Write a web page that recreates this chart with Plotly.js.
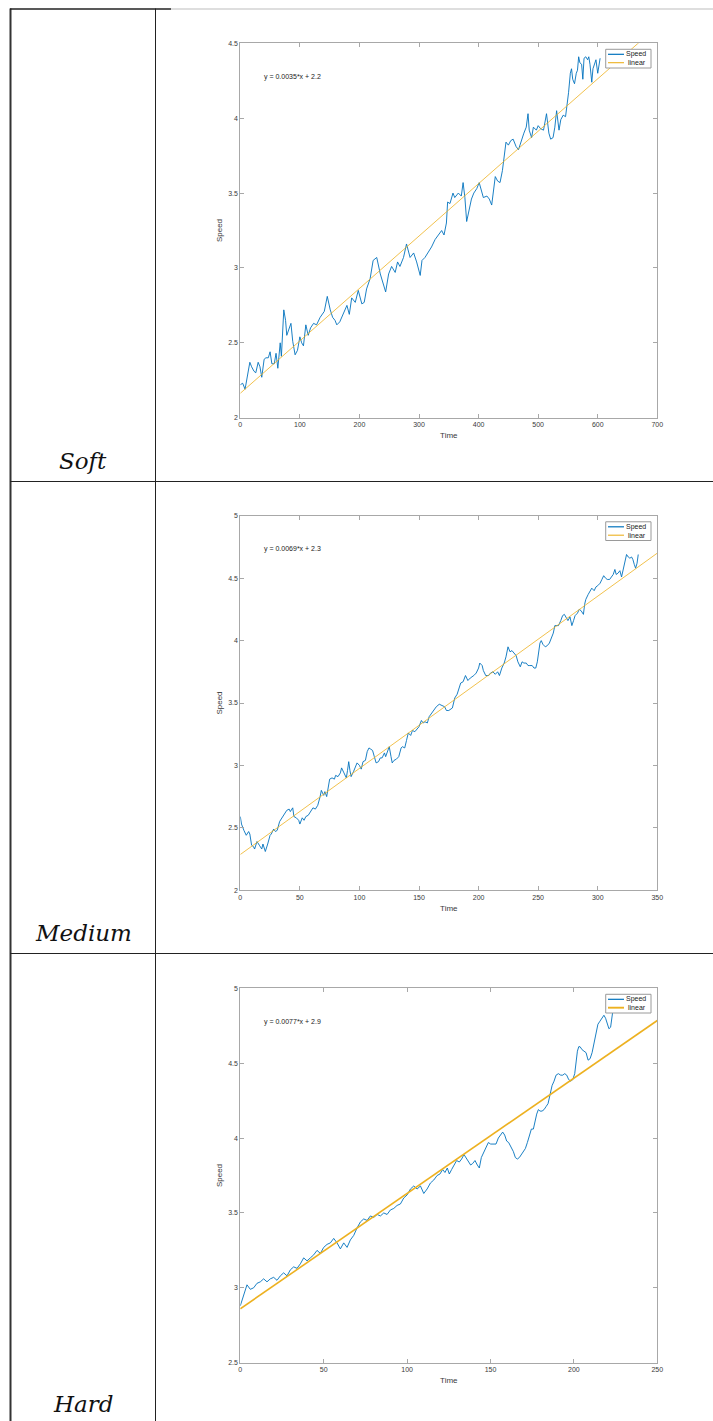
<!DOCTYPE html>
<html>
<head>
<meta charset="utf-8">
<script src="https://cdn.plot.ly/plotly-3.0.1.min.js"></script>
<style>
  html, body { margin: 0; padding: 0; background: #fff; }
  #chart { width: 713px; height: 1421px; }
</style>
</head>
<body>
<div id="chart"></div>
<script>
// ---------------- DATA ----------------
const rowLabels = ['Soft', 'Medium', 'Hard'];
const seriesNames = ['Speed', 'linear'];
const fitLabels = ['y = 0.0035*x + 2.2', 'y = 0.0069*x + 2.3', 'y = 0.0077*x + 2.9'];
const fitSlopes = [0.0035, 0.0069, 0.0077];
const fitIntercepts = [2.163, 2.286, 2.86];
const xRanges = [[0, 700], [0, 350], [0, 250]];
const yRanges = [[2, 4.5], [2, 5], [2.5, 5]];
const xTickSteps = [100, 50, 50];
const yTickSteps = [0.5, 0.5, 0.5];
const xTitle = 'Time';
const yTitle = 'Speed';

const softTime = [0,4,8,12,16,19,23,26,30,33,36,40,43,47,50,53,57,60,63,67,69,73,76,78,81,85,88,92,96,100,103,106,110,114,118,123,128,134,141,146,151,155,159,162,167,173,179,183,187,193,198,204,208,212,218,223,229,235,239,244,249,254,260,264,268,274,279,285,291,296,302,305,310,316,321,327,333,338,342,346,348,352,357,360,366,371,374,377,380,385,388,392,397,401,404,408,414,418,422,425,428,432,436,440,443,446,450,454,458,463,467,472,476,480,483,485,489,492,497,500,504,509,512,514,518,521,525,528,531,535,538,542,546,548,551,554,556,558,561,564,566,568,570,573,575,577,580,583,585,587,590,592,595,597,600,602,604];
const softSpeed = [2.22,2.23,2.19,2.27,2.37,2.34,2.31,2.30,2.37,2.34,2.27,2.39,2.40,2.40,2.44,2.36,2.36,2.43,2.33,2.50,2.41,2.72,2.65,2.55,2.59,2.63,2.51,2.42,2.45,2.54,2.50,2.48,2.62,2.55,2.60,2.63,2.62,2.67,2.71,2.81,2.72,2.67,2.65,2.62,2.64,2.70,2.75,2.69,2.80,2.77,2.85,2.76,2.77,2.86,2.93,3.05,3.07,2.96,2.90,2.84,2.96,3.01,2.97,3.04,3.01,3.07,3.16,3.07,3.10,3.04,2.95,3.05,3.07,3.11,3.14,3.19,3.22,3.25,3.22,3.30,3.44,3.43,3.50,3.47,3.50,3.48,3.57,3.47,3.31,3.41,3.46,3.50,3.53,3.57,3.52,3.47,3.48,3.46,3.42,3.52,3.61,3.58,3.57,3.65,3.77,3.84,3.82,3.85,3.86,3.81,3.79,3.86,3.90,3.94,4.03,3.92,3.87,3.94,3.92,3.95,3.93,3.92,3.99,4.03,3.90,3.86,3.87,3.94,4.05,3.92,3.99,4.02,4.01,4.07,4.17,4.30,4.33,4.26,4.23,4.30,4.32,4.41,4.37,4.36,4.26,4.40,4.41,4.39,4.41,4.36,4.24,4.33,4.37,4.39,4.30,4.37,4.40];

const mediumTime = [0,1,3,5,7,8,9.5,11,12,14,16,18,19,21,23,25,26,28,29.5,31,33,35,37,39,41,42,44,45,47,49,50,52,53.5,55,57,59,61,63,65,67,68,70,71,72.5,74,75,77,79,80,82,84,85,87,89,90,91,92,93,95,96.5,98,100,101.5,103,105,106.5,108,109.5,111,112.5,114,116,117.5,119,121,122,124,125,126.5,127.5,129,131,133,135,136,138,139.5,141,143,144.5,146.5,148.5,150,152,153.5,155,157,158.5,160.5,162.5,164.5,167,169,171.5,173,175,178,180,182,183,185,187,189,191,193,196,198,200,201,203,204,206,208.5,210,212,214,216,217.5,219.5,221.5,223,224.7,226.4,228,230,231.5,233,235,236.5,238,240,241.5,243,245,246.5,248,249.3,250.4,251.5,252.6,254,256,257.7,259.4,261.3,262.7,264,265.5,267,269,270.5,272,273.3,275,276.7,278.3,279.7,281,283,284.5,286,288,289,290,292,293.5,295,297,298.5,300,302,303.5,305,306.6,308,310,311.6,313,314.4,315.5,317,318.6,320,321.4,322.8,324.2,325.6,327,328.4,329.5,330.7,331.8,333,334];
const mediumSpeed = [2.59,2.53,2.48,2.44,2.47,2.45,2.36,2.35,2.33,2.39,2.36,2.33,2.37,2.31,2.37,2.44,2.45,2.49,2.47,2.48,2.55,2.58,2.61,2.64,2.65,2.63,2.66,2.59,2.58,2.56,2.53,2.58,2.56,2.59,2.60,2.63,2.66,2.65,2.68,2.75,2.80,2.76,2.79,2.75,2.83,2.89,2.90,2.89,2.92,2.91,2.94,2.98,2.94,2.90,2.96,3.03,2.96,2.91,2.95,2.99,3.02,3.00,2.97,3.03,3.04,3.11,3.14,3.13,3.12,3.07,3.02,3.03,3.06,3.06,3.10,3.07,3.13,3.15,3.07,3.02,3.04,3.05,3.07,3.14,3.15,3.14,3.20,3.26,3.24,3.28,3.27,3.29,3.31,3.36,3.34,3.35,3.34,3.39,3.42,3.44,3.47,3.49,3.48,3.47,3.44,3.44,3.46,3.54,3.57,3.60,3.66,3.67,3.72,3.68,3.70,3.72,3.74,3.78,3.82,3.80,3.76,3.72,3.72,3.74,3.75,3.73,3.75,3.72,3.78,3.82,3.87,3.95,3.91,3.92,3.90,3.88,3.83,3.79,3.83,3.82,3.82,3.80,3.80,3.80,3.78,3.78,3.83,3.92,3.98,4.00,3.97,3.95,3.96,3.98,4.03,4.06,4.12,4.12,4.12,4.16,4.20,4.21,4.19,4.16,4.19,4.12,4.16,4.20,4.22,4.25,4.24,4.21,4.29,4.33,4.37,4.40,4.42,4.40,4.43,4.44,4.46,4.49,4.52,4.50,4.49,4.49,4.51,4.53,4.57,4.53,4.54,4.56,4.51,4.58,4.63,4.69,4.67,4.66,4.67,4.65,4.61,4.58,4.62,4.69];

const hardTime = [0,2,4,6,8,10,12,14,16,18,20,22,24,26,28,30,32,34,36,38,40,42,44,46,48,50,52,54,56,58,60,62,64,66,68,70,72,74,76,78,80,82,84,86,88,90,92,94,96,98,100,102,104,106,108,110,112,114,116,118,119.7,121.3,122.7,124.1,125.3,126.7,128.1,129.7,131.3,132.7,134.1,135.3,136.7,138.1,139.3,140.7,142.1,143.3,144.5,145.7,147.3,148.7,150.1,151.7,153.3,154.7,156.1,157.3,158.5,159.7,160.9,162.3,163.7,164.9,166.1,167.3,168.5,169.7,170.9,172.1,173.3,174.5,175.7,176.7,177.7,178.7,179.7,180.9,182.1,183.3,184.5,185.7,186.9,188.1,189.3,190.7,192.1,193.3,194.5,195.7,196.9,198.1,199.3,200.5,201.3,202.1,202.9,203.7,204.9,206.1,207.3,208.5,209.7,210.9,212.1,213.3,214.4,215.6,216.8,218,219,220,221,222,222.8,223.6];
const hardSpeed = [2.88,2.95,3.02,2.99,3.00,3.03,3.04,3.06,3.04,3.06,3.07,3.05,3.08,3.10,3.08,3.12,3.14,3.13,3.16,3.20,3.18,3.20,3.22,3.25,3.23,3.27,3.29,3.30,3.33,3.30,3.26,3.30,3.27,3.32,3.35,3.40,3.44,3.46,3.45,3.48,3.47,3.49,3.48,3.50,3.49,3.52,3.53,3.55,3.56,3.60,3.62,3.66,3.68,3.66,3.68,3.63,3.66,3.70,3.72,3.75,3.76,3.79,3.77,3.80,3.76,3.79,3.82,3.85,3.84,3.86,3.89,3.87,3.84,3.82,3.83,3.85,3.82,3.80,3.87,3.90,3.93,3.97,3.96,3.96,3.96,4.00,4.02,4.04,4.02,3.98,3.97,3.94,3.91,3.87,3.86,3.87,3.89,3.91,3.93,3.97,4.02,4.06,4.06,4.12,4.16,4.19,4.18,4.18,4.19,4.21,4.23,4.29,4.35,4.38,4.42,4.43,4.42,4.42,4.43,4.42,4.39,4.38,4.39,4.43,4.50,4.58,4.61,4.61,4.59,4.58,4.57,4.52,4.53,4.57,4.63,4.69,4.76,4.78,4.80,4.82,4.80,4.76,4.73,4.74,4.80,4.87];

// ---------------- LAYOUT HELPERS ----------------
const W = 713, H = 1421;
const FONT = 'Liberation Sans, Arial, Helvetica, sans-serif';
const AXIS_COLOR = '#a8a8a8';
const TEXT_COLOR = '#3a3a3a';
const BLUE = '#0072BD';
const ORANGE = '#EDB120';
const px = v => v / W;
const py = v => 1 - v / H;

const xDomain = [px(240.3), px(657.3)];
const plotTops = [43.3, 515.8, 988.3];
const plotHeight = 374.4;
const fitWidths = [0.8, 0.8, 1.6];
const rowSeparators = [481.5, 953.5];
const labelCentersY = [461, 933, 1404];
// legend box, in fractions of each plot area (x from left, y from bottom)
const legendBox = {x0: 0.8763, x1: 0.9849, y0: 0.934, y1: 0.984};
const legendRows = [0.9706, 0.9482];
const legendSwatch = [0.8818, 0.9201];
const legendTextRight = 0.9765;

const timeData = [softTime, mediumTime, hardTime];
const speedData = [softSpeed, mediumSpeed, hardSpeed];

const traces = [];
const layout = {
  width: W, height: H,
  margin: {l: 0, r: 0, t: 0, b: 0, pad: 0},
  paper_bgcolor: '#ffffff',
  plot_bgcolor: '#ffffff',
  showlegend: false,
  font: {family: FONT, size: 7, color: TEXT_COLOR},
  shapes: [],
  annotations: []
};

for (let i = 0; i < 3; i++) {
  const s = i === 0 ? '' : String(i + 1);
  const xa = 'x' + s, ya = 'y' + s;
  const seriesColors = [BLUE, ORANGE];
  const seriesWidths = [0.9, fitWidths[i]];
  traces.push({
    type: 'scatter', mode: 'lines',
    x: timeData[i], y: speedData[i],
    name: seriesNames[0],
    line: {color: BLUE, width: 0.9},
    xaxis: xa, yaxis: ya, showlegend: false
  });
  const fx = xRanges[i];
  traces.push({
    type: 'scatter', mode: 'lines',
    x: fx, y: fx.map(v => fitIntercepts[i] + fitSlopes[i] * v),
    name: seriesNames[1],
    line: {color: ORANGE, width: fitWidths[i]},
    xaxis: xa, yaxis: ya, showlegend: false
  });
  const common = {
    showline: true, linecolor: AXIS_COLOR, linewidth: 1, mirror: 'ticks',
    ticks: 'inside', ticklen: 4, tickwidth: 1, tickcolor: AXIS_COLOR,
    showgrid: false, zeroline: false, fixedrange: true,
    tickfont: {family: FONT, size: 7, color: TEXT_COLOR}
  };
  const top = plotTops[i], bottom = top + plotHeight;
  layout['xaxis' + s] = Object.assign({}, common, {
    domain: xDomain, anchor: ya, range: xRanges[i],
    tickmode: 'linear', tick0: 0, dtick: xTickSteps[i],
    title: {text: xTitle, font: {family: FONT, size: 8, color: TEXT_COLOR}, standoff: 5}
  });
  layout['yaxis' + s] = Object.assign({}, common, {
    domain: [py(bottom), py(top)], anchor: xa, range: yRanges[i],
    tickmode: 'linear', tick0: yRanges[i][0], dtick: yTickSteps[i],
    title: {text: yTitle, font: {family: FONT, size: 8, color: TEXT_COLOR}, standoff: 4}
  });

  // legend (MATLAB style box, top-right inside the axes)
  const xd = xa + ' domain', yd = ya + ' domain';
  layout.shapes.push({
    type: 'rect', xref: xd, yref: yd,
    x0: legendBox.x0, x1: legendBox.x1, y0: legendBox.y0, y1: legendBox.y1,
    line: {color: '#9a9a9a', width: 1}, fillcolor: '#ffffff', layer: 'above'
  });
  for (let k = 0; k < 2; k++) {
    layout.shapes.push({
      type: 'line', xref: xd, yref: yd,
      x0: legendSwatch[0], x1: legendSwatch[1], y0: legendRows[k], y1: legendRows[k],
      line: {color: seriesColors[k], width: seriesWidths[k] + 0.3}, layer: 'above'
    });
    layout.annotations.push({
      xref: xd, yref: yd, x: legendTextRight, y: legendRows[k],
      xanchor: 'right', yanchor: 'middle', showarrow: false,
      text: seriesNames[k], font: {family: FONT, size: 7, color: '#222'}
    });
  }

  layout.annotations.push({
    xref: xd, yref: yd, x: 0.051, y: 0.91,
    xanchor: 'left', yanchor: 'middle', showarrow: false,
    text: fitLabels[i], font: {family: FONT, size: 7, color: '#222'}
  });
  layout.annotations.push({
    xref: 'paper', yref: 'paper', x: px(83), y: py(labelCentersY[i]),
    xanchor: 'center', yanchor: 'middle', showarrow: false,
    text: rowLabels[i],
    font: {family: 'DejaVu Serif, Liberation Serif, serif', size: 23, color: '#111', style: 'italic'}
  });
}

// table rules
const dark = {color: '#222', width: 1};
layout.shapes.push({type: 'line', xref: 'paper', yref: 'paper', x0: px(10.5), x1: px(10.5), y0: py(8.5), y1: 0, line: {color: '#333', width: 2}});
layout.shapes.push({type: 'line', xref: 'paper', yref: 'paper', x0: px(155.5), x1: px(155.5), y0: py(8.5), y1: 0, line: dark});
layout.shapes.push({type: 'line', xref: 'paper', yref: 'paper', x0: px(10), x1: px(171), y0: py(9), y1: py(9), line: {color: '#222', width: 1.3}});
layout.shapes.push({type: 'line', xref: 'paper', yref: 'paper', x0: px(171), x1: 1, y0: py(9), y1: py(9), line: {color: '#bdbdbd', width: 1}});
rowSeparators.forEach(yv => {
  layout.shapes.push({type: 'line', xref: 'paper', yref: 'paper', x0: px(10), x1: 1, y0: py(yv), y1: py(yv), line: dark});
});

Plotly.newPlot('chart', traces, layout, {staticPlot: true, displayModeBar: false});
</script>
</body>
</html>
